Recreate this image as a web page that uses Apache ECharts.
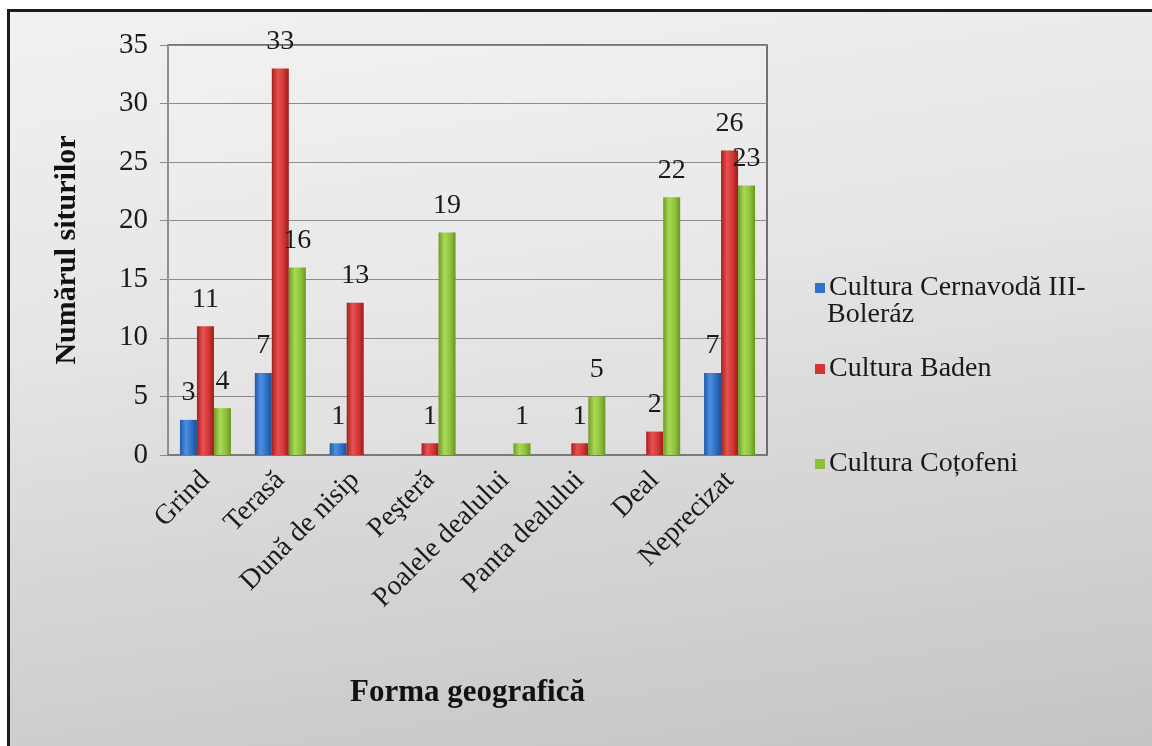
<!DOCTYPE html>
<html>
<head>
<meta charset="utf-8">
<script src="https://cdn.jsdelivr.net/npm/echarts@6/dist/echarts.min.js"></script>
<style>
html,body{margin:0;padding:0;width:1152px;height:746px;overflow:hidden;background:#ffffff;}
#frame{position:absolute;left:7px;top:9px;width:1160px;height:760px;border:3px solid #1c1c1c;
background:linear-gradient(172deg,#f1f1f1 0%,#e6e6e6 35%,#d2d2d2 70%,#c3c3c3 100%);}
#chart{position:absolute;left:0;top:0;width:1152px;height:746px;}
</style>
</head>
<body>
<div id="frame"></div>
<div id="chart"></div>
<script>
const categories = ['Grind', 'Terasă', 'Dună de nisip', 'Peşteră', 'Poalele dealului', 'Panta dealului', 'Deal', 'Neprecizat'];
const seriesNames = ['Cultura Cernavodă III-Boleráz', 'Cultura Baden', 'Cultura Coțofeni'];
const cernavodaValues = [3, 7, 1, 0, 0, 0, 0, 7];
const badenValues = [11, 33, 13, 1, 0, 1, 2, 26];
const cotofeniValues = [4, 16, 0, 19, 1, 5, 22, 23];
const yTicks = [0, 5, 10, 15, 20, 25, 30, 35];
const yAxisTitle = 'Numărul siturilor';
const xAxisTitle = 'Forma geografică';

const FONT = '"Liberation Serif", "DejaVu Serif", serif';
function grad(c){
  return new echarts.graphic.LinearGradient(0,0,1,0,[
    {offset:0,color:c[0]},{offset:0.35,color:c[1]},{offset:0.7,color:c[2]},{offset:1,color:c[3]}]);
}
const palettes = [
  ['#1f5aa6','#4a90e2','#2d6fc4','#1b4f96'],
  ['#a81e1e','#e65252','#d23535','#9c1b1b'],
  ['#6e9c22','#a9d957','#8cc23a','#6a951f']
];
const legendIcons = ['#2f73c8','#d23535','#8cc23a'];

const chart = echarts.init(document.getElementById('chart'), null, {renderer:'canvas'});
const dataSets = [cernavodaValues, badenValues, cotofeniValues];

const series = seriesNames.map((n,i)=>({
  name:n, type:'bar', data:dataSets[i], barWidth:17, barGap:'0%',
  itemStyle:{color:grad(palettes[i])},
  label:{show:true, position:'top', distance:13, color:'#1a1a1a', fontFamily:FONT, fontSize:28,
    formatter:p=>p.value===0?'':String(p.value)}
}));

const legendTops = [269, 350, 445];
chart.setOption({
  animation:false,
  backgroundColor:'transparent',
  grid:{left:168, right:385, top:45, bottom:291, show:true, borderColor:'#4a4a4a', borderWidth:1.5, backgroundColor:'rgba(255,255,255,0.12)'},
  xAxis:{type:'category', data:categories,
    name:xAxisTitle, nameLocation:'middle', nameGap:222,
    nameTextStyle:{fontFamily:FONT, fontSize:31, fontWeight:'bold', color:'#111'},
    axisLine:{lineStyle:{color:'#7a7a7a', width:2}},
    axisTick:{show:false},
    axisLabel:{rotate:45, interval:0, margin:21, fontFamily:FONT, fontSize:28, color:'#1a1a1a'}},
  yAxis:{type:'value', min:yTicks[0], max:yTicks[yTicks.length-1], interval:yTicks[1]-yTicks[0],
    name:yAxisTitle, nameLocation:'middle', nameGap:86, nameRotate:90,
    nameTextStyle:{fontFamily:FONT, fontSize:30, fontWeight:'bold', color:'#111'},
    axisLine:{show:true, lineStyle:{color:'#9a9a9a', width:1.5}},
    axisTick:{show:true, length:8, lineStyle:{color:'#8a8a8a'}},
    splitLine:{lineStyle:{color:'#8c8c8c', width:1}},
    axisLabel:{margin:20, fontFamily:FONT, fontSize:29, color:'#1a1a1a'}},
  legend:seriesNames.map((n,i)=>({
    data:[{name:n, itemStyle:{color:legendIcons[i]}}], left:810, top:legendTops[i], orient:'vertical',
    icon:'rect', itemWidth:10, itemHeight:10, itemGap:0,
    formatter:name=> i===0 ? 'Cultura Cernavodă III-' : name,
    textStyle:{fontFamily:FONT, fontSize:28, color:'#1a1a1a', padding:[0,0,0,-1]}
  })),
  graphic:[{type:'text', left:827, top:301, style:{text:'Boleráz', font:'28px '+FONT, fill:'#1a1a1a'}}],
  series:series
});
</script>
</body>
</html>
